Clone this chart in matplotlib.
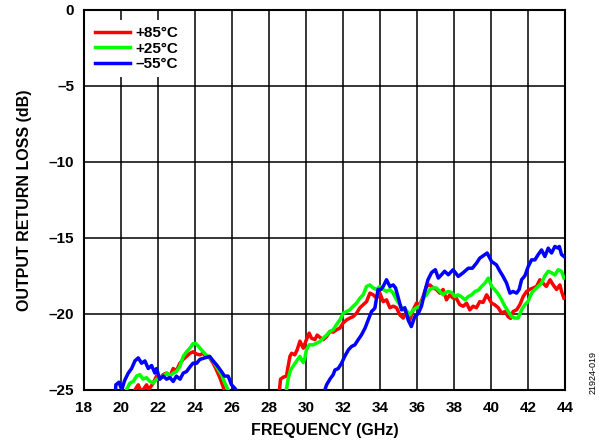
import matplotlib
matplotlib.use("Agg")
import matplotlib.pyplot as plt

# ---- data ----
f85_lo = [20.7, 20.76, 20.94, 21.05, 21.2, 21.39, 21.5, 21.75, 21.93, 22.1, 22.29, 22.47, 22.65, 22.83, 23.0, 23.19, 23.37, 23.55, 23.73, 23.9, 24.1, 24.27, 24.45, 24.6, 24.8, 24.99, 25.17, 25.35, 25.53, 25.65]
d85_lo = [-25.3, -25.0, -24.67, -25.0, -25.0, -24.67, -25.0, -24.56, -24.1, -24.3, -24.0, -23.9, -24.1, -23.6, -23.75, -23.25, -23.0, -22.8, -22.6, -22.5, -22.65, -22.7, -22.6, -22.8, -22.9, -23.25, -23.7, -24.2, -24.8, -25.3]

f25_lo = [20.25, 20.3, 20.49, 20.67, 20.85, 21.03, 21.2, 21.39, 21.57, 21.75, 21.93, 22.1, 22.3, 22.5, 22.65, 22.83, 23.0, 23.19, 23.37, 23.55, 23.73, 23.9, 24.05, 24.2, 24.45, 24.6, 24.8, 24.99, 25.17, 25.44, 25.62, 25.8, 25.85]
d25_lo = [-25.3, -25.0, -24.56, -24.45, -24.1, -24.0, -24.3, -24.2, -24.45, -24.56, -24.3, -24.2, -24.1, -23.9, -24.1, -23.9, -23.8, -23.47, -22.8, -22.5, -22.26, -21.97, -21.95, -22.15, -22.5, -22.7, -22.85, -23.1, -23.47, -24.0, -24.56, -25.0, -25.3]

f55_lo = [19.7, 19.73, 19.9, 20.05, 20.2, 20.4, 20.58, 20.76, 20.94, 21.12, 21.3, 21.48, 21.66, 21.84, 21.93, 22.1, 22.29, 22.47, 22.65, 22.83, 23.0, 23.2, 23.37, 23.55, 23.73, 23.9, 24.1, 24.27, 24.54, 24.8, 24.99, 25.17, 25.44, 25.6, 25.8, 25.98, 26.16, 26.35]
d55_lo = [-25.2, -24.67, -24.5, -25.0, -24.4, -23.9, -23.6, -23.1, -22.9, -23.25, -23.1, -23.6, -23.4, -23.9, -23.6, -24.3, -24.1, -24.3, -24.2, -24.45, -24.1, -24.3, -23.9, -23.8, -23.5, -23.25, -23.25, -23.0, -22.9, -22.8, -23.1, -23.35, -23.8, -24.1, -24.1, -24.67, -24.9, -25.2]

f85_hi = [28.55, 28.63, 28.78, 28.95, 29.04, 29.14, 29.23, 29.4, 29.53, 29.68, 29.86, 30.03, 30.18, 30.3, 30.49, 30.61, 30.76, 30.94, 31.12, 31.3, 31.48, 31.66, 31.84, 32.02, 32.2, 32.38, 32.56, 32.74, 32.92, 33.1, 33.28, 33.46, 33.64, 33.82, 34.0, 34.18, 34.36, 34.54, 34.72, 34.9, 35.08, 35.26, 35.44, 35.62, 35.8, 35.98, 36.16, 36.34, 36.52, 36.7, 36.88, 37.06, 37.24, 37.42, 37.6, 37.78, 37.96, 38.14, 38.32, 38.5, 38.69, 38.86, 39.04, 39.22, 39.4, 39.58, 39.77, 39.9, 40.04, 40.2, 40.4, 40.58, 40.76, 40.94, 41.07, 41.2, 41.39, 41.57, 41.75, 41.93, 42.1, 42.29, 42.47, 42.65, 42.83, 43.0, 43.2, 43.37, 43.55, 43.73, 43.82, 43.95]
d85_hi = [-25.3, -24.3, -24.17, -24.1, -23.47, -22.8, -22.6, -22.7, -22.37, -21.8, -22.26, -21.7, -21.27, -21.6, -21.7, -21.4, -21.55, -21.7, -21.5, -21.16, -21.2, -21.05, -20.94, -20.6, -20.4, -20.28, -20.18, -19.96, -19.6, -19.4, -19.2, -18.64, -18.75, -18.97, -18.64, -19.2, -19.08, -19.6, -19.5, -19.6, -20.07, -20.28, -19.85, -20.4, -19.74, -19.3, -19.4, -18.86, -18.2, -18.1, -18.3, -18.4, -18.64, -18.4, -19.08, -18.75, -18.97, -19.0, -19.4, -19.5, -19.3, -19.74, -19.5, -19.6, -19.2, -19.25, -18.75, -19.0, -19.3, -19.4, -19.6, -19.96, -19.85, -20.2, -20.3, -19.85, -19.74, -19.4, -18.86, -18.53, -18.4, -18.3, -18.2, -17.76, -18.0, -18.2, -17.76, -18.1, -18.4, -18.1, -18.53, -18.97]

f25_hi = [28.9, 28.95, 29.04, 29.17, 29.3, 29.5, 29.68, 29.76, 29.86, 29.95, 30.03, 30.18, 30.4, 30.58, 30.76, 30.94, 31.12, 31.3, 31.48, 31.66, 31.84, 32.02, 32.2, 32.38, 32.56, 32.74, 32.92, 33.1, 33.28, 33.46, 33.64, 33.82, 34.0, 34.18, 34.36, 34.54, 34.72, 34.9, 35.08, 35.26, 35.44, 35.62, 35.8, 35.98, 36.16, 36.34, 36.52, 36.7, 36.88, 37.06, 37.24, 37.42, 37.5, 37.7, 37.88, 38.05, 38.22, 38.4, 38.6, 38.78, 38.96, 39.14, 39.32, 39.5, 39.68, 39.86, 39.95, 40.04, 40.2, 40.4, 40.58, 40.76, 40.94, 41.12, 41.3, 41.48, 41.66, 41.84, 42.0, 42.2, 42.38, 42.56, 42.74, 42.92, 43.1, 43.28, 43.46, 43.64, 43.82, 43.95]
d25_hi = [-25.3, -25.0, -24.3, -23.7, -23.47, -23.1, -22.8, -23.0, -23.2, -22.9, -22.37, -22.04, -22.04, -21.93, -21.82, -21.6, -21.4, -21.16, -21.05, -20.7, -20.4, -19.96, -19.85, -19.74, -19.5, -19.3, -18.97, -18.75, -18.2, -18.1, -18.3, -18.4, -18.2, -18.4, -18.53, -18.4, -18.64, -19.08, -19.4, -19.74, -19.8, -20.07, -19.74, -19.6, -19.5, -18.97, -18.75, -18.4, -18.3, -18.3, -18.53, -18.75, -18.64, -18.53, -18.6, -18.86, -18.75, -18.86, -19.08, -18.86, -18.75, -18.53, -18.45, -18.2, -17.98, -17.65, -17.9, -18.2, -18.4, -18.7, -19.08, -19.5, -19.85, -20.18, -20.28, -20.28, -19.74, -19.4, -19.2, -18.64, -18.4, -18.2, -17.98, -17.5, -17.2, -17.3, -17.45, -17.1, -17.2, -17.65]

f55_hi = [31.0, 31.03, 31.12, 31.3, 31.48, 31.57, 31.75, 31.93, 32.1, 32.3, 32.47, 32.65, 32.83, 33.0, 33.2, 33.37, 33.55, 33.73, 33.9, 34.05, 34.18, 34.36, 34.54, 34.72, 34.85, 35.0, 35.17, 35.35, 35.53, 35.7, 35.89, 36.07, 36.25, 36.43, 36.6, 36.79, 36.88, 37.0, 37.16, 37.33, 37.5, 37.7, 37.96, 38.24, 38.5, 38.78, 39.0, 39.22, 39.4, 39.68, 39.8, 40.04, 40.3, 40.49, 40.66, 40.85, 41.03, 41.2, 41.39, 41.53, 41.66, 41.84, 42.02, 42.2, 42.38, 42.56, 42.74, 42.92, 43.1, 43.28, 43.46, 43.64, 43.7, 43.82, 43.95]
d55_hi = [-25.3, -25.0, -24.67, -24.3, -24.0, -23.7, -23.6, -23.25, -22.8, -22.37, -22.15, -22.04, -21.7, -21.4, -20.94, -20.4, -19.85, -19.63, -18.4, -18.4, -18.2, -17.76, -18.2, -18.1, -18.3, -18.97, -19.74, -19.6, -20.4, -20.84, -20.18, -20.0, -19.5, -18.53, -17.76, -17.3, -17.2, -17.1, -17.65, -17.43, -17.2, -17.43, -17.1, -17.54, -17.3, -17.0, -17.0, -16.67, -16.34, -16.1, -16.0, -16.56, -16.78, -17.2, -17.54, -17.98, -18.64, -18.53, -18.64, -18.4, -17.76, -17.5, -16.89, -16.45, -16.45, -16.1, -15.8, -16.23, -15.68, -16.0, -15.57, -15.68, -15.57, -16.1, -16.23]

labels = ["+85°C", "+25°C", "–55°C"]
colors = ["#ff0000", "#00ff00", "#0000ff"]
x_ticks = list(range(18, 45, 2))
y_ticks = [0, -5, -10, -15, -20, -25]
y_tick_labels = ["0", "–5", "–10", "–15", "–20", "–25"]

plt.rcParams['font.family'] = ['Liberation Sans', 'DejaVu Sans']
plt.rcParams['font.weight'] = 'bold'

fig = plt.figure(figsize=(5.99, 4.46), dpi=100)
ax = fig.add_axes([0.140, 0.126, 0.803, 0.852])

series = [(f85_lo, d85_lo, f85_hi, d85_hi), (f25_lo, d25_lo, f25_hi, d25_hi), (f55_lo, d55_lo, f55_hi, d55_hi)]
handles = []
for (fl, dl, fh, dh), lab, c in zip(series, labels, colors):
    h, = ax.plot(fl, dl, color=c, lw=2.5, label=lab, zorder=3, solid_joinstyle='round')
    ax.plot(fh, dh, color=c, lw=2.5, zorder=3, solid_joinstyle='round')
    handles.append(h)

ax.set_xlim(18, 44)
ax.set_ylim(-25, 0)
ax.set_xticks(x_ticks)
ax.set_yticks(y_ticks)
ax.set_yticklabels(y_tick_labels)
ax.tick_params(length=0, labelsize=11)
ax.tick_params(axis='x', pad=8)
ax.tick_params(axis='y', pad=7)
for lab in ax.get_xticklabels() + ax.get_yticklabels():
    lab.set_fontweight('bold')
ax.grid(True, color='black', lw=1.1, zorder=1)
for s in ax.spines.values():
    s.set_linewidth(1.5)
ax.set_xlabel("FREQUENCY (GHz)", fontsize=11.5, fontweight='bold', labelpad=6)
ax.set_ylabel("OUTPUT RETURN LOSS (dB)", fontsize=11.5, fontweight='bold', labelpad=12)

leg = ax.legend(handles=handles, loc='upper left', bbox_to_anchor=(0.0, 0.985), frameon=True,
                fancybox=False, edgecolor='none', facecolor='white', framealpha=1,
                fontsize=11, handlelength=2.3, handletextpad=0.35, labelspacing=0.1,
                borderpad=0.4, borderaxespad=0.3)
for t in leg.get_texts():
    t.set_fontweight('bold')
leg.set_zorder(5)

fig.text(0.99, 0.165, "21924-019", rotation=90, fontsize=6.5, fontweight='normal', ha='center', va='center')

fig.savefig("out.png", dpi=100)
